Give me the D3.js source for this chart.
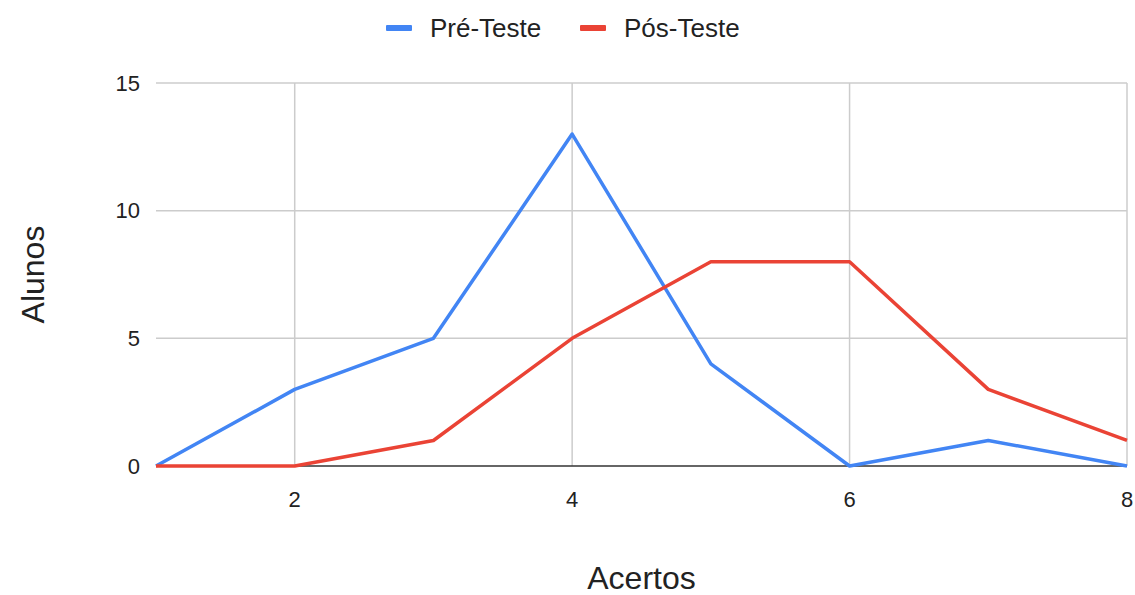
<!DOCTYPE html>
<html>
<head>
<meta charset="utf-8">
<script src="https://cdn.jsdelivr.net/npm/d3@7/dist/d3.min.js"></script>
<style>
body { margin: 0; background: #fff; }
text { font-family: "Liberation Sans", Arial, sans-serif; fill: #222; }
</style>
</head>
<body>
<div id="container"></div>
<script>
var acertos = [1, 2, 3, 4, 5, 6, 7, 8];
var preTeste = [0, 3, 5, 13, 4, 0, 1, 0];
var posTeste = [0, 0, 1, 5, 8, 8, 3, 1];
var xTicks = [2, 4, 6, 8];
var yTicks = [0, 5, 10, 15];
var seriesNames = ["Pré-Teste", "Pós-Teste"];
var seriesColors = ["#4285f4", "#ea4335"];

var w = 1135, h = 595,
	plotLeft = 156, plotRight = 1127, plotTop = 83, plotBottom = 466;

var svg = d3.select("div#container").append("svg")
	.attr("width", w)
	.attr("height", h);

var x = d3.scaleLinear().domain([1, 8]).range([plotLeft, plotRight]);
var y = d3.scaleLinear().domain([0, 15]).range([plotBottom, plotTop]);

// horizontal grid
svg.append("g").selectAll("line")
	.data(yTicks.filter(function(d) { return d > 0; }))
	.enter().append("line")
	.attr("x1", plotLeft).attr("x2", plotRight)
	.attr("y1", function(d) { return y(d); })
	.attr("y2", function(d) { return y(d); })
	.attr("stroke", "#cccccc").attr("stroke-width", 1.5);

// vertical grid
svg.append("g").selectAll("line")
	.data(xTicks)
	.enter().append("line")
	.attr("x1", function(d) { return x(d); })
	.attr("x2", function(d) { return x(d); })
	.attr("y1", plotTop).attr("y2", plotBottom)
	.attr("stroke", "#cccccc").attr("stroke-width", 1.5);

// y tick labels
svg.append("g").selectAll("text")
	.data(yTicks)
	.enter().append("text")
	.attr("x", plotLeft - 16)
	.attr("y", function(d) { return y(d); })
	.attr("dy", "0.35em")
	.attr("text-anchor", "end")
	.style("font-size", "22px")
	.text(function(d) { return d; });

// x tick labels
svg.append("g").selectAll("text")
	.data(xTicks)
	.enter().append("text")
	.attr("x", function(d) { return x(d); })
	.attr("y", plotBottom + 41)
	.attr("text-anchor", "middle")
	.style("font-size", "22px")
	.text(function(d) { return d; });

// baseline
svg.append("line")
	.attr("x1", plotLeft).attr("x2", plotRight)
	.attr("y1", y(0)).attr("y2", y(0))
	.attr("stroke", "#333").attr("stroke-width", 1.5);

var line = d3.line()
	.x(function(d, i) { return x(acertos[i]); })
	.y(function(d) { return y(d); });

[preTeste, posTeste].forEach(function(vals, k) {
	svg.append("path")
		.datum(vals)
		.attr("d", line)
		.attr("fill", "none")
		.attr("stroke", seriesColors[k])
		.attr("stroke-width", 3.5)
		.attr("stroke-linejoin", "round");
});

// legend
var legX = [386, 580];
seriesNames.forEach(function(name, k) {
	svg.append("rect")
		.attr("x", legX[k]).attr("y", 25)
		.attr("width", 26).attr("height", 6)
		.attr("rx", 1)
		.attr("fill", seriesColors[k]);
	svg.append("text")
		.attr("x", legX[k] + 44).attr("y", 37)
		.style("font-size", "26px")
		.text(name);
});

// axis titles
svg.append("text")
	.attr("x", (plotLeft + plotRight) / 2).attr("y", 589)
	.attr("text-anchor", "middle")
	.style("font-size", "32px")
	.text("Acertos");

svg.append("text")
	.attr("transform", "translate(44," + ((plotTop + plotBottom) / 2) + ") rotate(-90)")
	.attr("text-anchor", "middle")
	.style("font-size", "32px")
	.text("Alunos");
</script>
</body>
</html>
